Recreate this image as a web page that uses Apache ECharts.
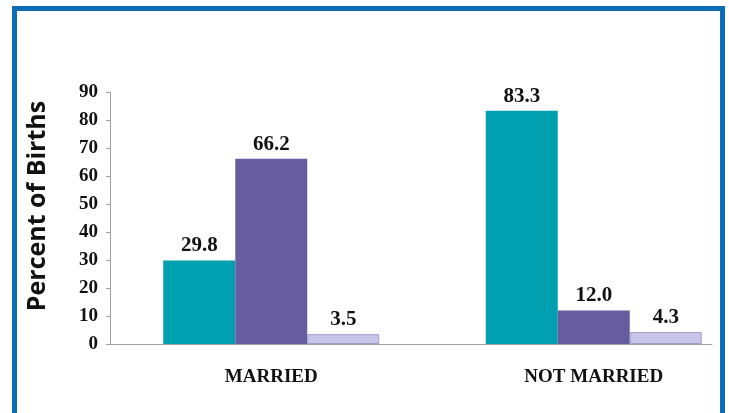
<!DOCTYPE html>
<html>
<head>
<meta charset="utf-8">
<script src="https://cdn.jsdelivr.net/npm/echarts@6/dist/echarts.min.js"></script>
<style>
html,body{margin:0;padding:0;background:#fff;}
#c{width:729px;height:413px;}
</style>
</head>
<body>
<div id="c"></div>
<script>
var categories = ['MARRIED', 'NOT MARRIED'];
var seriesA = [29.8, 83.3];
var seriesB = [66.2, 12.0];
var seriesC = [3.5, 4.3];
var yTicks = [0, 10, 20, 30, 40, 50, 60, 70, 80, 90];
var yTitle = 'Percent of Births';

var chart = echarts.init(document.getElementById('c'), null, {renderer: 'canvas'});
var serif = '"Liberation Serif", "Times New Roman", serif';
var labelStyle = {show: true, position: 'top', distance: 4, fontFamily: serif, fontWeight: 'bold', fontSize: 21, color: '#111',
  formatter: function (p) { return p.value.toFixed(1); }};

function mkBar(name, data, color, border) {
  return {
    name: name, type: 'bar', xAxisIndex: 1, yAxisIndex: 1, data: data,
    barWidth: 72, barGap: '0%',
    itemStyle: {color: color, borderColor: border || color, borderWidth: border ? 1 : 0},
    label: labelStyle
  };
}

chart.setOption({
  animation: false,
  backgroundColor: '#fff',
  grid: [
    {left: 110, top: 92, height: 252, right: 17, outerBoundsMode: 'none', containLabel: false},
    {left: 110, top: 92, height: 252, width: 645, outerBoundsMode: 'none', containLabel: false}
  ],
  xAxis: [
    {gridIndex: 0, type: 'category', data: ['', ''], axisLine: {lineStyle: {color: '#a0a0a0', width: 1}}, axisTick: {show: false}, axisLabel: {show: false}},
    {gridIndex: 1, type: 'category', data: categories, axisLine: {show: false}, axisTick: {show: false},
     axisLabel: {margin: 24, fontFamily: serif, fontWeight: 'bold', fontSize: 19, color: '#111'}}
  ],
  yAxis: [
    {gridIndex: 0, type: 'value', min: 0, max: 90, interval: 10,
     axisLine: {show: true, lineStyle: {color: '#a0a0a0', width: 1}},
     axisTick: {show: true, length: 4, lineStyle: {color: '#a0a0a0'}},
     splitLine: {show: false},
     axisLabel: {margin: 12, fontFamily: serif, fontWeight: 'bold', fontSize: 19, color: '#111',
       formatter: function (v) { return yTicks.indexOf(v) >= 0 ? String(v) : ''; }},
     name: yTitle, nameLocation: 'middle', nameRotate: 90, nameGap: 60,
     nameTextStyle: {fontFamily: '"Open Sans", sans-serif', fontWeight: 'bold', fontSize: 25, color: '#111', padding: [0, 0, 0, 24]}},
    {gridIndex: 1, type: 'value', min: 0, max: 90, interval: 10, show: false, splitLine: {show: false}}
  ],
  series: [
    mkBar('A', seriesA, '#00a0b0'),
    mkBar('B', seriesB, '#675c9f'),
    mkBar('C', seriesC, '#c9c6ea', '#9e9cc8')
  ],
  graphic: [
    {type: 'rect', z: 100, shape: {x: 14.5, y: 8.5, width: 708, height: 420},
     style: {fill: null, stroke: '#0a6db5', lineWidth: 5}}
  ]
});
</script>
</body>
</html>
